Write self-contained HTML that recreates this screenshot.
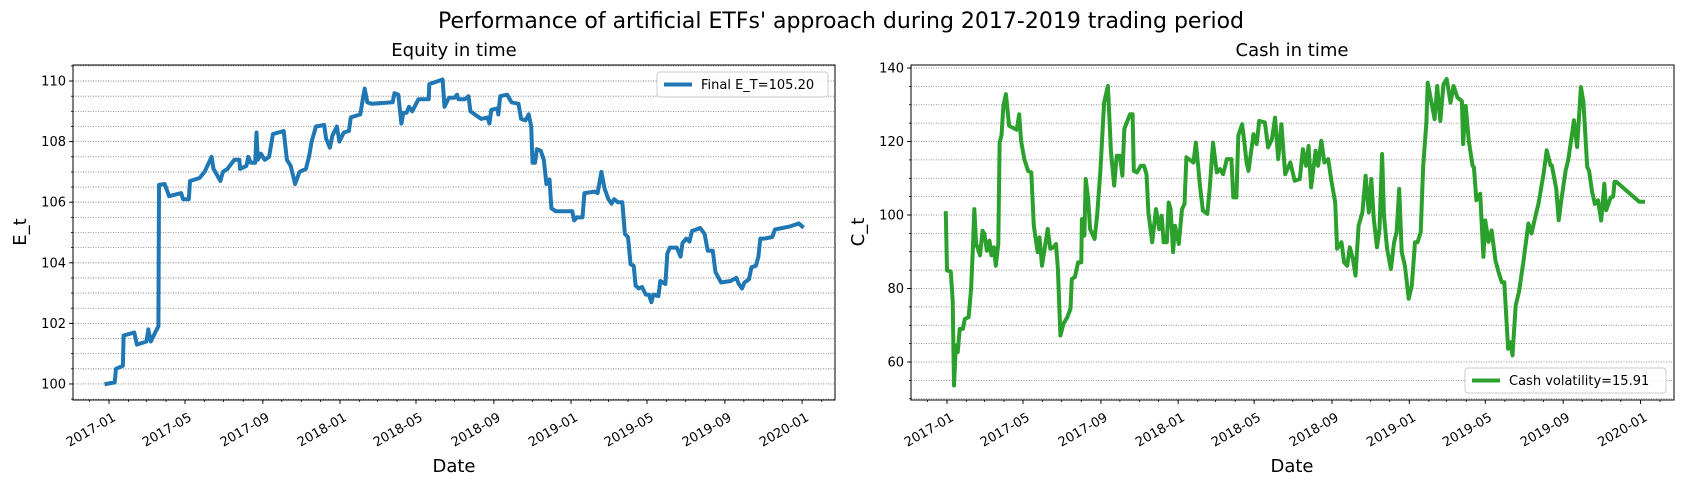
<!DOCTYPE html>
<html><head><meta charset="utf-8">
<style>
html,body{margin:0;padding:0;background:#fff;}
svg{display:block;font-family:"DejaVu Sans","Liberation Sans",sans-serif;}
</style></head>
<body>
<svg id="fig" width="1682" height="486" viewBox="0 0 1682 486">
<text x="841" y="28" font-size="22" text-anchor="middle" fill="#000">Performance of artificial ETFs' approach during 2017-2019 trading period</text>
<text x="454" y="56" font-size="18" text-anchor="middle">Equity in time</text>
<text x="1292" y="56" font-size="18" text-anchor="middle">Cash in time</text>
<text x="454" y="472" font-size="18" text-anchor="middle">Date</text>
<text x="1292" y="472" font-size="18" text-anchor="middle">Date</text>
<text transform="translate(26,232) rotate(-90)" font-size="18" text-anchor="middle">E_t</text>
<text transform="translate(864,232) rotate(-90)" font-size="18" text-anchor="middle">C_t</text>
<g id="left"></g>
<g id="right"></g>
</svg>
<script>
// day offsets from 2017-01-01
const equityDays=[-4,9,11,22,23,40,44,59,62,66,73,78,79,88,95,114,117,126,128,143,151,162,165,176,180,187,198,206,207,217,220,224,231,233,235,240,246,253,259,276,281,287,294,301,311,316,320,327,340,343,349,353,360,364,371,379,382,397,401,404,408,415,448,451,457,462,465,470,474,479,489,505,506,527,530,537,546,550,552,562,568,571,581,588,598,601,604,614,615,618,629,636,647,651,658,663,667,669,673,676,682,687,691,696,699,706,732,735,739,748,751,768,772,778,783,789,794,798,804,811,815,820,824,829,832,837,842,848,853,857,860,868,871,879,882,886,897,903,906,912,917,921,934,941,946,954,958,967,982,991,995,1000,1004,1011,1015,1022,1026,1029,1035,1048,1052,1076,1090,1095];
const equityValues=[100.0,100.05,100.5,100.6,101.6,101.7,101.3,101.4,101.8,101.4,101.7,101.9,106.57,106.6,106.2,106.3,106.1,106.1,106.7,106.8,107.0,107.5,107.1,106.7,107.0,107.1,107.4,107.4,107.1,107.2,107.5,107.3,107.3,108.3,107.4,107.6,107.4,107.5,108.25,108.35,107.4,107.2,106.6,107.0,107.1,107.5,108.0,108.5,108.55,108.1,107.8,108.2,108.5,108.0,108.3,108.35,108.8,108.9,109.4,109.75,109.3,109.25,109.3,109.6,109.55,108.6,108.95,108.95,109.15,109.0,109.4,109.4,109.9,110.05,109.15,109.45,109.45,109.55,109.4,109.4,109.5,109.0,108.85,108.75,108.8,108.6,109.05,109.1,108.9,109.5,109.55,109.3,109.25,108.75,108.7,108.9,108.5,107.3,107.3,107.75,107.7,107.4,106.6,106.75,105.8,105.7,105.7,105.4,105.5,105.5,106.3,106.35,106.3,107.0,106.45,106.1,105.95,106.1,106.0,106.0,104.95,104.85,103.95,103.9,103.25,103.15,103.2,102.95,102.95,102.7,102.95,102.9,103.4,103.3,104.3,104.5,104.5,104.2,104.65,104.8,104.7,105.05,105.15,104.95,104.4,104.4,103.7,103.35,103.4,103.5,103.3,103.15,103.35,103.45,103.85,103.9,104.2,104.8,104.8,104.85,105.1,105.2,105.3,105.2];
const cashDays=[-2,0,6,9,11,14,17,20,25,28,34,38,41,43,46,49,52,56,59,63,67,70,74,77,81,83,86,89,93,98,110,114,117,122,128,133,137,143,146,150,154,159,163,168,172,175,179,184,190,195,197,202,207,212,213,217,219,223,226,233,237,242,248,254,259,264,268,273,277,280,286,289,293,295,300,306,311,315,318,324,330,335,339,342,347,350,353,357,360,366,371,375,378,389,393,400,404,411,415,420,426,431,436,442,449,452,457,460,466,469,473,476,484,489,493,502,507,513,518,523,528,534,542,549,557,562,567,571,575,582,586,591,596,602,607,613,616,623,627,632,636,641,645,650,656,661,666,670,674,679,683,687,690,695,701,706,710,714,718,723,729,734,739,743,748,752,757,759,765,770,774,779,784,789,795,800,806,813,815,819,824,830,832,836,842,847,850,855,860,866,871,876,880,886,890,893,898,903,910,918,923,929,934,942,947,953,955,962,966,970,977,981,989,990,995,1001,1005,1011,1014,1019,1020,1023,1028,1033,1038,1041,1048,1052,1054,1057,1093,1099];
const cashValues=[100.5,84.9,84.6,76.7,53.6,64.5,62.7,69,69,71.7,72.2,79.9,91.7,101.6,92,90.8,89,95.7,94.8,90.3,93,89,91.2,86.2,92.1,119.7,121.6,129.7,132.9,124.3,123.2,127.4,120.2,115.2,112,111.6,97.1,89.9,93.9,86.2,90.8,96.2,90.8,91.2,92.1,85.3,67.2,70.4,72.2,74.5,82.6,83.1,87.1,87.1,98.9,94.4,109.8,104.3,96.2,93.5,99.8,111.6,130.6,135.1,117,108,116.1,116.1,110.7,123.4,126.1,127.4,127.4,112,111.6,113.4,113.4,111.1,100.7,92.6,101.6,96.2,99.8,92.6,92.6,103.4,101.6,89.9,97.1,92.1,101.6,103,115.7,114.3,119.7,107.1,101.2,100.3,107.5,119.7,111.6,112.5,111.1,115.2,115.2,104.8,104.8,121.6,124.7,120.6,114.3,112,122,119.3,125.6,125.2,118.4,120.6,126.5,115.2,124.7,111.1,114.3,109.3,109.8,117.9,113.4,118.8,107.5,117.5,113.4,120.2,114.3,115.2,109.3,103.4,90.8,92.6,87.1,86.2,91.2,88,83.5,97.1,100.7,110.7,100.7,109.8,98.9,91.2,96.2,116.6,99.8,90.8,85.3,92.6,95.3,107.1,89.9,86.2,77.2,80.8,92.6,92.6,95.3,113.4,125.2,136,130.6,126.1,135.1,125.6,135.6,137,130.6,135.1,132,131,119.3,129.7,120.2,113.4,113,104,105.8,88.6,98.5,92.7,95.8,87.7,84.4,81.7,81.7,63.6,65.4,61.8,75.4,79,87.1,97.7,95,99.5,103.1,111.3,117.6,113.5,113.5,107.2,98.6,104,112.2,114.9,124.4,125.8,118.5,134.8,130.8,113.1,112,105.9,105.5,103,104,98.5,108.5,101.3,104.8,105,109,109,103.6,103.6,106];
const xTickDays=[0,120,243,365,485,608,730,850,973,1095];
const xTickLabels=["2017-01","2017-05","2017-09","2018-01","2018-05","2018-09","2019-01","2019-05","2019-09","2020-01"];
const monthDays=[-31,0,31,59,90,120,151,181,212,243,273,304,334,365,396,424,455,485,516,546,577,608,638,669,699,730,761,789,820,850,881,911,942,973,1003,1034,1064,1095,1126];
const equityTicks=[100,102,104,106,108,110];
const cashTicks=[60,80,100,120,140];

const NS="http://www.w3.org/2000/svg";
function mk(parent,tag,attrs){const e=document.createElementNS(NS,tag);for(const k in attrs)e.setAttribute(k,attrs[k]);parent.appendChild(e);return e;}

function drawChart(g,cfg){
  const X=d=>cfg.x0+(d-cfg.dmin)/(cfg.dmax-cfg.dmin)*(cfg.x1-cfg.x0);
  const Y=v=>cfg.y1-(v-cfg.vmin)/(cfg.vmax-cfg.vmin)*(cfg.y1-cfg.y0);
  for(let v=Math.ceil(cfg.vmin/cfg.minor)*cfg.minor;v<=cfg.vmax;v+=cfg.minor){
    const l=mk(g,'line',{x1:cfg.x0,x2:cfg.x1,y1:Y(v),y2:Y(v),stroke:'#777','stroke-width':0.8,'stroke-dasharray':'1,1.5'});
    
    
    mk(g,'line',{x1:cfg.x0-2,x2:cfg.x0,y1:Y(v),y2:Y(v),stroke:'#000','stroke-width':0.8});
  }
  cfg.yticks.forEach(v=>{
    mk(g,'line',{x1:cfg.x0-4,x2:cfg.x0,y1:Y(v),y2:Y(v),stroke:'#000','stroke-width':0.9});
    const t=mk(g,'text',{x:cfg.x0-7,y:Y(v)+4.5,'font-size':13,'text-anchor':'end'});
    t.textContent=String(v);
    
    
  });
  monthDays.forEach(d=>{ if(d>=cfg.dmin&&d<=cfg.dmax) mk(g,'line',{x1:X(d),x2:X(d),y1:cfg.y1,y2:cfg.y1+2,stroke:'#000','stroke-width':0.8}); });
  xTickDays.forEach((d,i)=>{
    mk(g,'line',{x1:X(d),x2:X(d),y1:cfg.y1,y2:cfg.y1+4,stroke:'#000','stroke-width':0.9});
    const t=mk(g,'text',{transform:`translate(${X(d)+3},${cfg.y1+12}) rotate(-30)`,'font-size':13,'text-anchor':'end',dy:'0.7em'});
    t.textContent=xTickLabels[i];
    
    
  });
  let d='';
  cfg.days.forEach((dd,i)=>{d+=(i?'L':'M')+X(dd).toFixed(1)+','+Y(cfg.vals[i]).toFixed(1);});
  const p=mk(g,'path',{d:d,fill:'none',stroke:cfg.color,'stroke-width':4,'stroke-linejoin':'round','stroke-linecap':'square'});
  
  
  const f=mk(g,'rect',{x:cfg.x0,y:cfg.y0,width:cfg.x1-cfg.x0,height:cfg.y1-cfg.y0,fill:'none',stroke:'#000','stroke-width':1});
  
  
  const L=cfg.legend;
  const lg=mk(g,'g',{});
  
  
  mk(lg,'rect',{x:L.x,y:L.y,width:L.w,height:25,rx:3,fill:'#fff','fill-opacity':0.85,stroke:'#ccc','stroke-width':1});
  mk(lg,'line',{x1:L.x+7,x2:L.x+35,y1:L.y+12.5,y2:L.y+12.5,stroke:cfg.color,'stroke-width':4});
  const lt=mk(lg,'text',{x:L.x+44,y:L.y+17,'font-size':13});
  lt.textContent=L.text;
  
  
}

drawChart(document.getElementById('left'),{x0:73,x1:835,y0:65,y1:400,dmin:-56.9,dmax:1147,vmin:99.47,vmax:110.53,minor:0.5,yticks:equityTicks,days:equityDays,vals:equityValues,color:'#1f77b4',seriesName:'equity-line',legend:{x:657,y:72,w:171,text:'Final E_T=105.20'}});
drawChart(document.getElementById('right'),{x0:911,x1:1674,y0:65,y1:400,dmin:-56.9,dmax:1148,vmin:49.66,vmax:140.82,minor:5,yticks:cashTicks,days:cashDays,vals:cashValues,color:'#2ca02c',seriesName:'cash-line',legend:{x:1465,y:368,w:201,text:'Cash volatility=15.91'}});
</script>
</body></html>
